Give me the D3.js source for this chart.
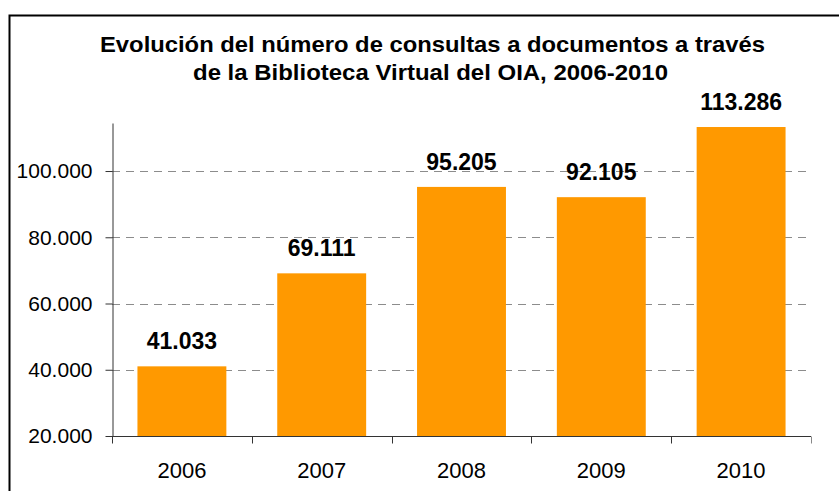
<!DOCTYPE html>
<html>
<head>
<meta charset="utf-8">
<script src="https://cdn.jsdelivr.net/npm/d3@7"></script>
<style>
    body { margin: 0; background: #fff; }
    svg { display: block; font-family: "Liberation Sans", Arial, sans-serif; }
</style>
</head>
<body>
<div id="chart"></div>
<script>
// Chart data
const years = ["2006", "2007", "2008", "2009", "2010"];
const consultas = [41033, 69111, 95205, 92105, 113286];
const yTicks = [20000, 40000, 60000, 80000, 100000];
const titleLines = [
    "Evolución del número de consultas a documentos a través",
    "de la Biblioteca Virtual del OIA, 2006-2010"
];

// formatting with dots as thousands separator
const fmt = d3.formatLocale({ decimal: ",", thousands: ".", grouping: [3], currency: ["", ""] }).format(",.0f");

function drawBarChart() {
    const W = 839, H = 491;
    const plot = { left: 112, right: 811, top: 123, bottom: 436 };

    const svg = d3.select("#chart")
        .append("svg")
        .attr("width", W)
        .attr("height", H);

    // outer frame (runs off the right and bottom edge)
    svg.append("rect")
        .attr("x", 9.5)
        .attr("y", 15.5)
        .attr("width", 850)
        .attr("height", 500)
        .attr("fill", "none")
        .attr("stroke", "#000")
        .attr("stroke-width", 2);

    // Title
    const titleSpans = [[100, 765, 52], [193, 668, 80]];
    svg.selectAll(".title")
        .data(titleLines)
        .enter()
        .append("text")
        .attr("class", "title")
        .attr("x", (d, i) => titleSpans[i][0])
        .attr("y", (d, i) => titleSpans[i][2])
        .attr("textLength", (d, i) => titleSpans[i][1] - titleSpans[i][0])
        .attr("lengthAdjust", "spacingAndGlyphs")
        .style("font-size", "21.5px")
        .style("font-weight", "bold")
        .text(d => d);

    const x = d3.scaleBand()
        .domain(years)
        .range([plot.left, plot.right])
        .paddingInner(0.364)
        .paddingOuter(0.182);

    const y = d3.scaleLinear()
        .domain([20000, 114500])
        .range([plot.bottom, plot.top]);

    // Gridlines (dashed)
    svg.append("g")
        .selectAll("line")
        .data(yTicks.filter(d => d > 20000))
        .enter()
        .append("line")
        .attr("x1", plot.left)
        .attr("x2", plot.right)
        .attr("y1", d => Math.round(y(d)) + 0.5)
        .attr("y2", d => Math.round(y(d)) + 0.5)
        .attr("stroke", "#8c8c8c")
        .attr("stroke-width", 1)
        .attr("stroke-dasharray", "8,6");

    // Bars
    svg.append("g")
        .selectAll("rect")
        .data(consultas)
        .enter()
        .append("rect")
        .attr("x", (d, i) => x(years[i]))
        .attr("y", d => y(d))
        .attr("width", x.bandwidth())
        .attr("height", d => y(20000) - y(d))
        .attr("fill", "#ff9900");

    // Value labels
    svg.append("g")
        .selectAll("text")
        .data(consultas)
        .enter()
        .append("text")
        .attr("x", (d, i) => x(years[i]) + x.bandwidth() / 2)
        .attr("y", d => y(d) - 17)
        .attr("text-anchor", "middle")
        .style("font-size", "23px")
        .style("font-weight", "bold")
        .text(d => fmt(d));

    // Y axis
    const yAxis = svg.append("g")
        .attr("transform", `translate(${plot.left + 0.5},0)`)
        .call(d3.axisLeft(y).tickValues(yTicks).tickFormat(fmt).tickSize(7).tickPadding(13).tickSizeOuter(0));
    yAxis.select(".domain").attr("stroke", "#333");
    yAxis.selectAll(".tick line").attr("stroke", "#333");
    yAxis.selectAll("text")
        .style("font-size", "21px")
        .attr("fill", "#000")
        .style("font-family", "'Liberation Sans', Arial, sans-serif");

    // X axis with ticks at category boundaries
    const xAxis = svg.append("g")
        .attr("transform", `translate(0,${plot.bottom + 0.5})`);
    xAxis.append("line")
        .attr("x1", plot.left)
        .attr("x2", plot.right)
        .attr("stroke", "#333");
    const step = x.step();
    xAxis.selectAll(".bound")
        .data(d3.range(years.length + 1))
        .enter()
        .append("line")
        .attr("x1", i => Math.round(plot.left + i * step) + 0.5)
        .attr("x2", i => Math.round(plot.left + i * step) + 0.5)
        .attr("y1", 0)
        .attr("y2", 7)
        .attr("stroke", i => i === years.length ? "#888" : "#333");
    xAxis.selectAll(".yl")
        .data(years)
        .enter()
        .append("text")
        .attr("x", d => x(d) + x.bandwidth() / 2)
        .attr("y", 41)
        .attr("text-anchor", "middle")
        .style("font-size", "22px")
        .text(d => d);
}

drawBarChart();
</script>
</body>
</html>
